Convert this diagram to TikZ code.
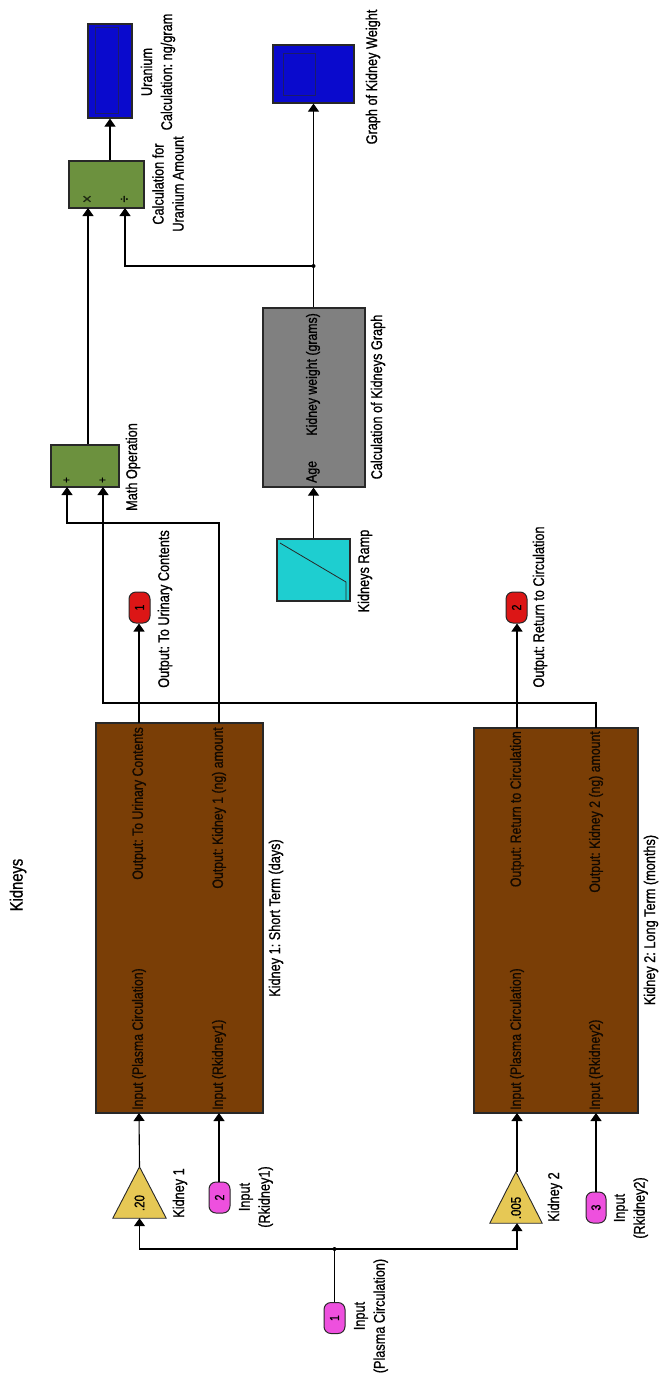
\documentclass[tikz,border=0pt]{standalone}
\usepackage{fontspec}
\setmainfont{Liberation Sans}[FakeStretch=0.82,FakeBold=0.9]
\usetikzlibrary{arrows.meta,calc}
\definecolor{scopeblue}{RGB}{10,10,205}
\definecolor{mathgreen}{RGB}{108,145,62}
\definecolor{blockbrown}{RGB}{122,62,6}
\definecolor{calcgray}{RGB}{128,128,128}
\definecolor{rampcyan}{RGB}{30,206,208}
\definecolor{gainyellow}{RGB}{230,200,85}
\definecolor{inmag}{RGB}{238,80,222}
\definecolor{outred}{RGB}{220,22,22}
\definecolor{edge}{RGB}{40,40,40}
\tikzset{
  blk/.style={draw=edge,line width=1.2pt,inner sep=0pt,rectangle},
  portshape/.style={draw=edge,line width=1pt,inner sep=0pt,rounded corners=7pt,minimum width=21pt,minimum height=31pt},
  wire/.style={line width=1.1pt,draw=black},
  arr/.style={wire,-{Triangle[length=8pt,width=11pt]}},
  lbl/.style={rotate=90,inner sep=0pt,font=\fontsize{15.5}{20}\selectfont,align=center},
  inlbl/.style={rotate=90,inner sep=0pt,font=\fontsize{15}{18}\selectfont,text=black!85!blockbrown},
  numlbl/.style={rotate=90,inner sep=0pt,font=\fontsize{13}{13}\selectfont},
}
\begin{document}
\frenchspacing
\begin{tikzpicture}[x=1pt,y=-1pt]
\useasboundingbox (0,0) rectangle (660,1383);
% ---------- blocks ----------
\node[blk,fill=scopeblue,minimum width=44pt,minimum height=94pt] (scopeU) at (110,71) {};
\draw[edge!60!scopeblue,line width=0.9pt] (95,27) rectangle (118,113);
\node[blk,fill=scopeblue,minimum width=81pt,minimum height=58pt] (scopeG) at (313.5,74) {};
\draw[edge!60!scopeblue,line width=0.9pt] (283,53) rectangle (315,95);
\node[blk,fill=mathgreen,minimum width=75pt,minimum height=47pt] (prod) at (106.5,184.5) {};
\node[blk,fill=calcgray,minimum width=102pt,minimum height=179pt] (gray) at (314,397.5) {};
\node[blk,fill=rampcyan,minimum width=73pt,minimum height=62pt] (ramp) at (313.5,570) {};
\draw[line width=0.8pt,draw=edge] (280,543) -- (346,582) -- (346,600);
\node[blk,fill=mathgreen,minimum width=68pt,minimum height=42pt] (math) at (85,466) {};
\node[portshape,fill=outred] (out1) at (139.5,607.5) {};
\node[portshape,fill=outred] (out2) at (516.5,607.5) {};
\node[blk,fill=blockbrown,minimum width=167pt,minimum height=390pt] (blk1) at (179.5,918) {};
\node[blk,fill=blockbrown,minimum width=164pt,minimum height=385pt] (blk2) at (556,920.5) {};
\node[inner sep=0pt,minimum width=53pt,minimum height=51pt] (gain1) at (139.5,1192.5) {};
\filldraw[fill=gainyellow,draw=edge,line width=0.9pt] (gain1.south west) -- (gain1.south east) -- (gain1.north) -- cycle;
\node[inner sep=0pt,minimum width=52pt,minimum height=51pt] (gain2) at (516,1197.5) {};
\filldraw[fill=gainyellow,draw=edge,line width=0.9pt] (gain2.south west) -- (gain2.south east) -- (gain2.north) -- cycle;
\node[portshape,fill=inmag] (in2) at (219.5,1197.5) {};
\node[portshape,fill=inmag] (in1) at (334.5,1318) {};
\node[portshape,fill=inmag,minimum width=20pt] (in3) at (596,1207.5) {};
% ---------- texts inside blocks ----------
\node[numlbl,font=\fontsize{17}{17}\selectfont,text=black!70!mathgreen] at (88,199) {×};
\node[numlbl,font=\fontsize{15}{15}\selectfont] at (125,199) {÷};
\node[numlbl,font=\fontsize{12}{12}\selectfont] at (67,480) {+};
\node[numlbl,font=\fontsize{12}{12}\selectfont] at (103,480) {+};
\node[inlbl,text=black,anchor=east] at (313,313) {Kidney weight (grams)};
\node[inlbl,text=black,anchor=west] at (313,483) {Age};
\node[numlbl] at (out1) {1};
\node[numlbl] at (out2) {2};
\node[numlbl] at (in1) {1};
\node[numlbl] at (in2) {2};
\node[numlbl] at (in3) {3};
\node[numlbl,font=\fontsize{14}{14}\selectfont] at (139.5,1203) {.20};
\node[numlbl,font=\fontsize{14}{14}\selectfont] at (516,1208) {.005};
\node[inlbl,anchor=west] at (139,1110) {Input (Plasma Circulation)};
\node[inlbl,anchor=west] at (219,1110) {Input (Rkidney1)};
\node[inlbl,anchor=east] at (139,727) {Output: To Urinary Contents};
\node[inlbl,anchor=east] at (219,727) {Output: Kidney 1 (ng) amount};
\node[inlbl,anchor=west] at (517,1110) {Input (Plasma Circulation)};
\node[inlbl,anchor=west] at (596,1110) {Input (Rkidney2)};
\node[inlbl,anchor=east] at (517,731) {Output: Return to Circulation};
\node[inlbl,anchor=east] at (596,731) {Output: Kidney 2 (ng) amount};
% ---------- labels ----------
\node[lbl] at (158,72) {Uranium\\Calculation: ng/gram};
\node[lbl] at (168,184) {Calculation for\\Uranium Amount};
\node[lbl] at (373,77) {Graph of Kidney Weight};
\node[lbl] at (378,397) {Calculation of Kidneys Graph};
\node[lbl] at (365,571) {Kidneys Ramp};
\node[lbl] at (133,467) {Math Operation};
\node[lbl] at (165,609) {Output: To Urinary Contents};
\node[lbl] at (540,607) {Output: Return to Circulation};
\node[lbl,font=\fontsize{18}{20}\selectfont] at (18,885) {Kidneys};
\node[lbl] at (276,918) {Kidney 1: Short Term (days)};
\node[lbl] at (651,920) {Kidney 2: Long Term (months)};
\node[lbl] at (180,1193) {Kidney 1};
\node[lbl] at (555,1197) {Kidney 2};
\node[lbl] at (256,1197) {Input\\(Rkidney1)};
\node[lbl] at (371,1316) {Input\\(Plasma Circulation)};
\node[lbl] at (631,1208) {Input\\(Rkidney2)};
% ---------- port coordinates ----------
\coordinate (prodin1) at (88,208);
\coordinate (prodin2) at (125,208);
\coordinate (mathin1) at (67,487);
\coordinate (mathin2) at (103,487);
\coordinate (b1o1) at (139,723);
\coordinate (b1o2) at (219,723);
\coordinate (b1i1) at (139,1113);
\coordinate (b1i2) at (219,1113);
\coordinate (b2o1) at (517,728);
\coordinate (b2o2) at (596,728);
\coordinate (b2i1) at (517,1113);
\coordinate (b2i2) at (596,1113);
\coordinate (j1) at (334.5,1249);
\coordinate (j2) at (313.5,266);
% ---------- connectors ----------
\draw[arr] (scopeU.south |- prod.north) -- (scopeU.south);
\draw[arr] (gray.north -| j2) -- (scopeG.south -| j2);
\draw[arr] (j2) -| (prodin2);
\fill (j2) circle (2pt);
\draw[arr] (prodin1 |- math.north) -- (prodin1);
\draw[arr] (ramp.north -| j2) -- (gray.south -| j2);
\draw[arr] (b1o1) -- (b1o1 |- out1.south);
\draw[arr] (b1o2) -- (219,523) -| (mathin1);
\draw[arr] (b2o2) -- (596,703) -| (mathin2);
\draw[arr] (b2o1) -- (b2o1 |- out2.south);
\draw[arr] (gain1.north) -- (b1i1);
\draw[arr] (in2.north -| b1i2) -- (b1i2);
\draw[wire] (in1.north) -- (j1);
\fill (j1) circle (2pt);
\draw[arr] (j1) -| (gain1.south);
\draw[arr] (j1) -| (gain2.south -| b2i1);
\draw[arr] (gain2.north -| b2i1) -- (b2i1);
\draw[arr] (in3.north) -- (b2i2);
\end{tikzpicture}
\end{document}
